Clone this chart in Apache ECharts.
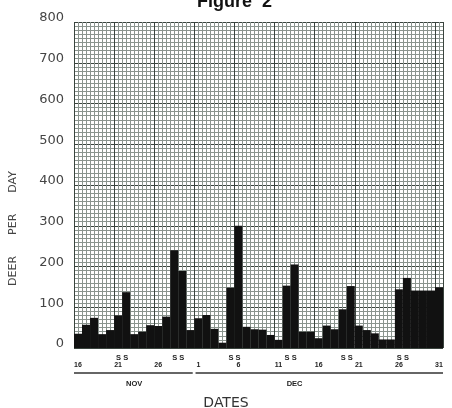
<!DOCTYPE html>
<html>
<head>
<meta charset="utf-8">
<script src="https://cdn.jsdelivr.net/npm/echarts@6/dist/echarts.min.js"></script>
<style>
html,body{margin:0;padding:0;background:#fff;}
#c{width:452px;height:408px;}
</style>
</head>
<body>
<div id="c"></div>
<script>
// Days: Nov 16 - Nov 30, Dec 1 - Dec 31
const categories = ['16','17','18','19','20','21','22','23','24','25','26','27','28','29','30',
  '1','2','3','4','5','6','7','8','9','10','11','12','13','14','15','16','17','18','19','20',
  '21','22','23','24','25','26','27','28','29','30','31'];
const deerPerDay = [35,57,74,34,44,80,137,34,40,56,54,77,240,189,44,
  73,81,47,13,148,300,52,46,45,32,20,153,205,40,40,24,55,46,95,152,
  55,44,36,21,21,144,172,141,141,141,149];
const labeledDayIdx = [0,5,10,15,20,25,30,35,40,45];
const weekendMarks = [6,13,20,27,34,41];   // Sat/Sun boundaries (day units)
const monthNames = ['NOV','DEC'];
const monthStart = [0,15.15];
const monthEnd = [14.8,46];
const monthLabelAt = [7.5,27.5];
const yMax = 800, yStep = 100;

const chart = echarts.init(document.getElementById('c'));
const near = (a,b) => Math.abs(a-b) < 1e-6;
const nDays = categories.length;

const option = {
  animation:false,
  backgroundColor:'#fff',
  title:[
    {text:'Figure  2', left:192, top:-12,
     textStyle:{fontFamily:'Liberation Sans', fontWeight:'bold', fontSize:18, color:'#111'}},
    {text:'DATES', left:'center', top:391,
     textStyle:{fontFamily:'DejaVu Sans', fontWeight:'normal', fontSize:14, color:'#333'}}
  ],
  grid:{left:74, right:9, top:22, bottom:60, containLabel:false, outerBoundsMode:'none'},
  xAxis:[
    {type:'category', data:categories, boundaryGap:true, position:'bottom',
     axisLine:{show:false}, axisTick:{show:false}, splitLine:{show:false},
     axisLabel:{interval:0, margin:14, fontFamily:'Liberation Sans', fontWeight:'bold', fontSize:7, color:'#222',
       formatter:(v,i)=> labeledDayIdx.indexOf(i)>=0 ? v : ''}},
    {type:'value', min:0, max:nDays, interval:0.5, position:'bottom',
     axisLine:{show:false}, axisTick:{show:false},
     splitLine:{show:true, lineStyle:{color:'#8a948e', width:1}},
     axisLabel:{show:true, margin:32, fontFamily:'Liberation Sans', fontWeight:'bold', fontSize:7.5, color:'#222',
       formatter:(v)=>{ for(let k=0;k<monthNames.length;k++){ if(near(v,monthLabelAt[k])) return monthNames[k]; } return ''; }}},
    {type:'value', min:0, max:nDays, interval:5, position:'bottom',
     axisLine:{show:false}, axisTick:{show:false}, axisLabel:{show:false},
     splitLine:{show:true, lineStyle:{color:'#3a443e', width:1}}},
    {type:'value', min:0, max:nDays, interval:1, position:'bottom',
     axisLine:{show:false}, axisTick:{show:false}, splitLine:{show:false},
     axisLabel:{show:true, margin:6, fontFamily:'Liberation Sans', fontWeight:'bold', fontSize:7.5, color:'#222',
       formatter:(v)=> weekendMarks.some(w=>near(v,w)) ? 'S S' : ''}}
  ],
  yAxis:{type:'value', min:0, max:yMax, interval:yStep,
    name:'DEER      PER      DAY', nameLocation:'middle', nameGap:55, nameRotate:90,
    nameTextStyle:{fontFamily:'DejaVu Sans', fontSize:11, color:'#444', padding:[0,87,0,0]},
    axisLine:{show:false}, axisTick:{show:false},
    axisLabel:{margin:10, fontFamily:'DejaVu Sans', fontSize:13, color:'#444', verticalAlign:'bottom', lineHeight:8},
    splitLine:{show:true, lineStyle:{color:'#3a443e', width:1}},
    minorTick:{show:false, splitNumber:10},
    minorSplitLine:{show:true, lineStyle:{color:'#8a948e', width:1}}
  },
  series:[{type:'bar', xAxisIndex:0, yAxisIndex:0, data:deerPerDay,
    barCategoryGap:'0%', itemStyle:{color:'#111'}, z:5}]
};
chart.setOption(option);

// month underlines, positioned through the axis scale
const lines = [];
for (let k=0;k<monthNames.length;k++){
  const p0 = chart.convertToPixel({xAxisIndex:1, yAxisIndex:0},[monthStart[k],0]);
  const p1 = chart.convertToPixel({xAxisIndex:1, yAxisIndex:0},[monthEnd[k],0]);
  lines.push({type:'line', shape:{x1:p0[0], y1:p0[1]+25, x2:p1[0], y2:p1[1]+25},
    style:{stroke:'#333', lineWidth:1.5}, silent:true});
}
chart.setOption({graphic:lines});
</script>
</body>
</html>
